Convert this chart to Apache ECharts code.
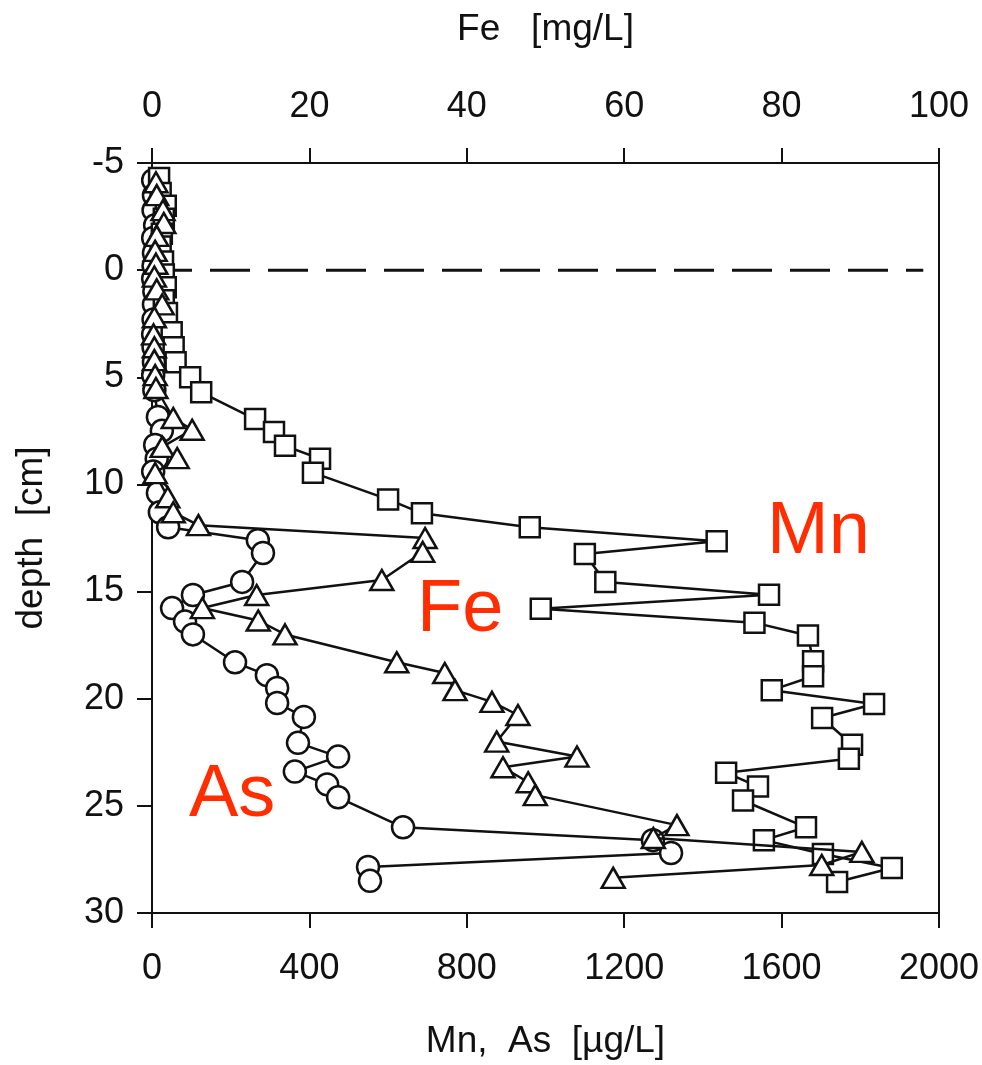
<!DOCTYPE html>
<html><head><meta charset="utf-8">
<script src="https://cdn.jsdelivr.net/npm/echarts@6/dist/echarts.min.js"></script>
<style>html,body{margin:0;padding:0;background:#fff}#c{width:982px;height:1065px}</style>
</head><body><div id="c"></div>
<script>
// Mn (µg/L) profile
const mnDepth = [-4.3,-3.6,-3.0,-2.4,-1.7,-1.1,-0.4,0.2,0.8,1.4,2.0,2.9,3.6,4.3,5.0,5.7,6.95,7.55,8.2,8.8,9.45,10.7,11.35,12.0,12.65,13.25,14.55,15.15,15.8,16.45,17.05,18.25,18.95,19.6,20.25,20.9,22.15,22.8,23.45,24.1,24.75,26.0,26.6,27.25,27.9,28.55];
const mnValue = [18,22,35,30,25,22,28,30,35,30,38,50,55,60,97,125,262,310,338,427,409,600,686,960,1435,1100,1152,1568,988,1531,1667,1680,1680,1575,1835,1703,1779,1771,1459,1540,1502,1662,1555,1705,1880,1741];
// Fe (mg/L) profile
const feDepth = [-4.1,-3.5,-2.8,-2.2,-1.6,-0.9,-0.3,0.3,0.9,1.6,2.2,3.0,3.6,4.2,4.9,5.5,6.9,7.45,8.25,8.77,9.47,10.6,11.3,11.9,12.5,13.15,14.46,15.16,15.77,16.35,17.0,18.3,18.8,19.6,20.15,20.76,22.0,22.7,23.2,23.9,24.5,25.9,26.5,27.15,27.76,28.36];
const feValue = [0.5,0.6,1.4,1.5,0.6,0.4,0.5,0.3,0.6,1.3,0.3,0.2,0.3,0.3,0.4,0.5,2.7,5.1,1.3,3.2,0.4,2.0,2.7,5.9,34.7,34.4,29.2,13.3,6.4,13.5,16.9,31.1,37.2,38.5,43.2,46.5,43.8,54.0,44.6,47.8,48.7,66.7,63.7,90.2,85.1,58.6];
// As (µg/L) profile
const asDepth = [-4.2,-3.5,-2.8,-2.1,-1.5,-0.8,-0.2,0.4,1.0,1.6,2.3,3.0,3.6,4.3,4.9,5.6,6.85,7.5,8.16,8.8,9.4,10.4,11.3,12.0,12.6,13.2,14.55,15.16,15.77,16.4,17.0,18.3,18.9,19.5,20.2,20.85,22.06,22.7,23.4,24.0,24.6,26.0,26.6,27.2,27.85,28.5];
const asValue = [3,5,4,8,3,5,4,3,6,5,4,3,4,5,3,6,15,25,8,12,3,15,20,41,269,282,229,104,51,84,104,211,292,318,318,386,371,473,363,445,473,638,1273,1319,549,554];
// sediment-water interface (depth 0)
const interfaceX = [0, 1960];
const interfaceDepth = [0, 0];

const bottomAxis = {min:0, max:2000, interval:400, name:'Mn,  As  [µg/L]'};
const topAxis = {min:0, max:100, interval:20, name:'Fe   [mg/L]'};
const depthAxis = {min:-5, max:30, interval:5, name:'depth  [cm]'};
const seriesLabels = ['Mn','Fe','As'];

const F = '"Liberation Sans", Arial, Helvetica, sans-serif';
const INK = '#111';
const RED = '#ff2d00';
function pairs(xs, ds){ return xs.map((v,i)=>[v, ds[i]]); }
const plain = v => String(v);

const axisCommon = {
  axisLine:{show:true,onZero:false,lineStyle:{color:INK,width:2}},
  axisTick:{show:true,inside:false,length:15,lineStyle:{color:INK,width:2}},
  splitLine:{show:false},
  nameLocation:'middle',
  nameTextStyle:{fontFamily:F,fontSize:37,color:INK}
};
const labelStyle = {fontFamily:F,fontSize:36,color:INK,formatter:plain};

const chart = echarts.init(document.getElementById('c'));
chart.setOption({
  animation:false,
  backgroundColor:'#fff',
  grid:{left:152,right:43,top:163,bottom:152,outerBoundsMode:'none',containLabel:false,show:true,borderColor:INK,borderWidth:2,backgroundColor:'transparent'},
  xAxis:[
    Object.assign({type:'value',position:'bottom',min:bottomAxis.min,max:bottomAxis.max,interval:bottomAxis.interval,name:bottomAxis.name,nameGap:110,
      axisLabel:Object.assign({margin:38},labelStyle)}, axisCommon),
    Object.assign({type:'value',position:'top',min:topAxis.min,max:topAxis.max,interval:topAxis.interval,name:topAxis.name,nameGap:115,
      axisLabel:Object.assign({margin:38},labelStyle)}, axisCommon)
  ],
  yAxis:[
    Object.assign({type:'value',inverse:true,min:depthAxis.min,max:depthAxis.max,interval:depthAxis.interval,name:depthAxis.name,nameGap:102,
      axisLabel:Object.assign({margin:28},labelStyle)}, axisCommon)
  ],
  graphic:[
    {type:'text',left:767,top:496,style:{text:seriesLabels[0],font:'74px '+F,fill:RED}},
    {type:'text',left:417,top:574,style:{text:seriesLabels[1],font:'74px '+F,fill:RED}},
    {type:'text',left:189,top:759,style:{text:seriesLabels[2],font:'74px '+F,fill:RED}}
  ],
  series:[
    {type:'line',xAxisIndex:0,yAxisIndex:0,data:pairs(interfaceX,interfaceDepth),symbol:'none',silent:true,
      lineStyle:{color:INK,width:3,type:[40,18]},z:1},
    {name:'As',type:'line',xAxisIndex:0,data:pairs(asValue,asDepth),symbol:'circle',symbolSize:22,
      lineStyle:{color:INK,width:2.5},itemStyle:{color:'#fff',borderColor:INK,borderWidth:2.5},z:2},
    {name:'Mn',type:'line',xAxisIndex:0,data:pairs(mnValue,mnDepth),symbol:'rect',symbolSize:20,
      lineStyle:{color:INK,width:2.5},itemStyle:{color:'#fff',borderColor:INK,borderWidth:2.5},z:3},
    {name:'Fe',type:'line',xAxisIndex:1,data:pairs(feValue,feDepth),symbol:'triangle',symbolSize:[23,20],
      lineStyle:{color:INK,width:2.5},itemStyle:{color:'#fff',borderColor:INK,borderWidth:2.5},z:4}
  ]
});
</script></body></html>
